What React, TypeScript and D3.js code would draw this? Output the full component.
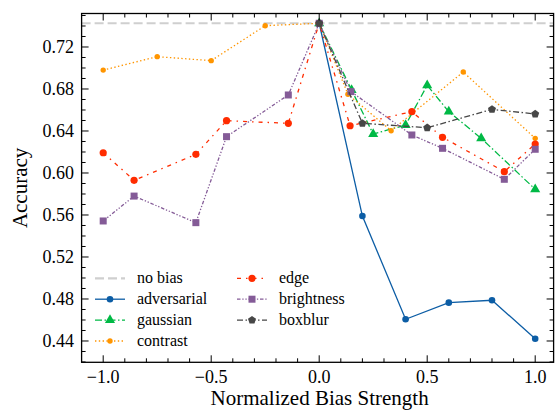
import React, { useRef, useEffect } from 'react';
import * as d3 from 'd3';

// values
const noBias = 0.7426;

const advX = [0, 0.2, 0.4, 0.6, 0.8, 1.0];
const advY = [0.7426, 0.559, 0.4607, 0.4765, 0.4788, 0.4422];

const gaussX = [0, 0.15, 0.25, 0.4, 0.5, 0.6, 0.75, 1.0];
const gaussY = [0.7426, 0.679, 0.6371, 0.6457, 0.6835, 0.6584, 0.633, 0.5845];

const contrastX = [-1, -0.75, -0.5, -0.25, 0, 0.133, 0.333, 0.667, 1.0];
const contrastY = [0.698, 0.7108, 0.707, 0.7403, 0.7426, 0.675, 0.6403, 0.6962, 0.633];

const edgeX = [-1, -0.857, -0.571, -0.429, -0.143, 0, 0.143, 0.429, 0.571, 0.857, 1.0];
const edgeY = [0.6193, 0.593, 0.6178, 0.6498, 0.6473, 0.7426, 0.645, 0.6584, 0.634, 0.6013, 0.6276];

const brightX = [-1, -0.857, -0.571, -0.429, -0.143, 0, 0.147, 0.429, 0.571, 0.857, 1.0];
const brightY = [0.5543, 0.578, 0.5527, 0.6346, 0.6743, 0.7426, 0.6775, 0.6362, 0.6235, 0.594, 0.6226];

const blurX = [0, 0.2, 0.5, 0.8, 1.0];
const blurY = [0.7426, 0.6473, 0.6431, 0.6606, 0.6562];

const xTicks = [-1.0, -0.5, 0.0, 0.5, 1.0];
const yTicks = [0.44, 0.48, 0.52, 0.56, 0.60, 0.64, 0.68, 0.72];

const series = [
  { name: 'adversarial', xs: advX, ys: advY, color: '#0C5DA5', dash: null, marker: 'circle', size: 3.3 },
  { name: 'gaussian', xs: gaussX, ys: gaussY, color: '#00B945', dash: '7,2.5,1.5,2.5', marker: 'triangle', size: 44 },
  { name: 'contrast', xs: contrastX, ys: contrastY, color: '#FF9500', dash: '1.4,2.4', marker: 'circle', size: 2.7 },
  { name: 'edge', xs: edgeX, ys: edgeY, color: '#FF2C00', dash: '4,5,1.5,5', marker: 'circle', size: 3.6 },
  { name: 'brightness', xs: brightX, ys: brightY, color: '#845B97', dash: '3.5,1.8,1.3,1.8,1.3,1.8', marker: 'square', size: 7 },
  { name: 'boxblur', xs: blurX, ys: blurY, color: '#474747', dash: '6,2.5,1.5,2.5', marker: 'pentagon', size: 4.2 },
];

const FONT = 'Liberation Serif, DejaVu Serif, serif';

const pentagonPath = (r) => {
  const pts = d3.range(5).map((i) => {
    const a = -Math.PI / 2 + (i * 2 * Math.PI) / 5;
    return [r * Math.cos(a), r * Math.sin(a)];
  });
  return d3.line()(pts) + 'Z';
};

const drawMarker = (g, s, cx, cy) => {
  if (s.marker === 'circle') {
    g.append('circle').attr('cx', cx).attr('cy', cy).attr('r', s.size).attr('fill', s.color);
  } else if (s.marker === 'square') {
    g.append('rect')
      .attr('x', cx - s.size / 2).attr('y', cy - s.size / 2)
      .attr('width', s.size).attr('height', s.size)
      .attr('fill', s.color);
  } else if (s.marker === 'triangle') {
    g.append('path')
      .attr('d', d3.symbol().type(d3.symbolTriangle).size(s.size)())
      .attr('transform', `translate(${cx},${cy})`)
      .attr('fill', s.color);
  } else {
    g.append('path')
      .attr('d', pentagonPath(s.size))
      .attr('transform', `translate(${cx},${cy})`)
      .attr('fill', s.color);
  }
};

const Chart = () => {
  const svgRef = useRef(null);

  useEffect(() => {
    const width = 555, height = 414;
    const left = 81.6, right = 553.6, top = 13.5, bottom = 362.3;

    const svg = d3.select(svgRef.current);
    svg.selectAll('*').remove();
    svg.attr('width', width).attr('height', height)
      .attr('font-family', FONT);

    const x = d3.scaleLinear().domain([-1.1, 1.0852]).range([left, right]);
    const y = d3.scaleLinear().domain([0.4197, 0.7519]).range([bottom, top]);

    // no bias reference line
    svg.append('line')
      .attr('x1', left).attr('x2', right)
      .attr('y1', y(noBias)).attr('y2', y(noBias))
      .attr('stroke', '#cfcfcf').attr('stroke-width', 2.2)
      .attr('stroke-dasharray', '9,4');

    const line = d3.line().x((d) => x(d[0])).y((d) => y(d[1]));

    series.forEach((s) => {
      const pts = s.xs.map((v, i) => [v, s.ys[i]]);
      const g = svg.append('g');
      g.append('path')
        .attr('d', line(pts))
        .attr('fill', 'none')
        .attr('stroke', s.color)
        .attr('stroke-width', 1.3)
        .attr('stroke-dasharray', s.dash);
      pts.forEach((p) => drawMarker(g, s, x(p[0]), y(p[1])));
    });

    // ticks (inward, on all four sides)
    const ticks = svg.append('g').attr('stroke', '#000').attr('stroke-width', 1);
    const xMinor = d3.range(-10, 11).map((i) => i / 10).filter((v) => !xTicks.some((t) => Math.abs(t - v) < 1e-9));
    const yMinor = d3.range(42, 76).map((i) => i / 100).filter((v) => !yTicks.some((t) => Math.abs(t - v) < 1e-9));
    const xTick = (v, len) => {
      ticks.append('line').attr('x1', x(v)).attr('x2', x(v)).attr('y1', bottom).attr('y2', bottom - len);
      ticks.append('line').attr('x1', x(v)).attr('x2', x(v)).attr('y1', top).attr('y2', top + len);
    };
    const yTick = (v, len) => {
      ticks.append('line').attr('y1', y(v)).attr('y2', y(v)).attr('x1', left).attr('x2', left + len);
      ticks.append('line').attr('y1', y(v)).attr('y2', y(v)).attr('x1', right).attr('x2', right - len);
    };
    xTicks.forEach((v) => xTick(v, 7));
    xMinor.forEach((v) => xTick(v, 4));
    yTicks.forEach((v) => yTick(v, 7));
    yMinor.forEach((v) => yTick(v, 4));

    svg.append('rect')
      .attr('x', left).attr('y', top)
      .attr('width', right - left).attr('height', bottom - top)
      .attr('fill', 'none').attr('stroke', '#000').attr('stroke-width', 1.3);

    const fmtX = (v) => d3.format('.1f')(v).replace('-', '\u2212');
    svg.append('g').selectAll('text').data(xTicks).enter().append('text')
      .attr('x', (d) => x(d)).attr('y', 383)
      .attr('text-anchor', 'middle')
      .attr('font-family', FONT).attr('font-size', 18)
      .text(fmtX);

    svg.append('g').selectAll('text').data(yTicks).enter().append('text')
      .attr('x', 74).attr('y', (d) => y(d)).attr('dy', '0.35em')
      .attr('text-anchor', 'end')
      .attr('font-family', FONT).attr('font-size', 18)
      .text((d) => d3.format('.2f')(d));

    svg.append('text')
      .attr('x', (left + right) / 2 + 2).attr('y', 405)
      .attr('text-anchor', 'middle')
      .attr('font-family', FONT).attr('font-size', 21)
      .text('Normalized Bias Strength');

    svg.append('text')
      .attr('transform', `translate(27,${(top + bottom) / 2}) rotate(-90)`)
      .attr('text-anchor', 'middle')
      .attr('font-family', FONT).attr('font-size', 21)
      .text('Accuracy');

    // legend, two columns
    const legendItems = [{ name: 'no bias', color: '#cfcfcf', dash: '9,4', marker: null, width: 2.2 }, ...series];
    const leg = svg.append('g');
    legendItems.forEach((s, i) => {
      const col = i < 4 ? 0 : 1;
      const row = i < 4 ? i : i - 4;
      const hx = col === 0 ? 95 : 237;
      const ly = 278.3 + row * 20.9;
      const g = leg.append('g');
      g.append('line')
        .attr('x1', hx).attr('x2', hx + 30).attr('y1', ly).attr('y2', ly)
        .attr('stroke', s.color).attr('stroke-width', s.width || 1.3)
        .attr('stroke-dasharray', s.dash);
      if (s.marker) drawMarker(g, s, hx + 15, ly);
      g.append('text')
        .attr('x', hx + 42).attr('y', ly).attr('dy', '0.32em')
        .attr('font-family', FONT).attr('font-size', 16)
        .text(s.name);
    });
  }, []);

  return <svg ref={svgRef} style={{ position: 'absolute', left: 0, top: 0, background: '#fff' }}></svg>;
};

export default function App() {
  return <Chart />;
}
